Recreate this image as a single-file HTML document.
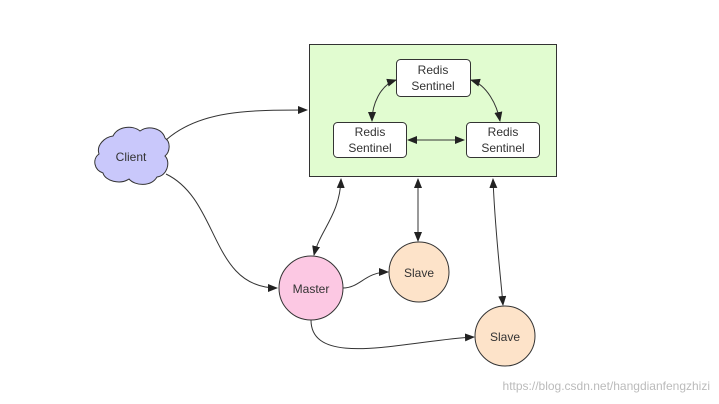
<!DOCTYPE html>
<html><head><style>body{margin:0;background:#fff}svg{display:block}text{font-family:"Liberation Sans",sans-serif;fill:#333}</style></head><body>
<svg width="719" height="404" viewBox="0 0 719 404" xmlns="http://www.w3.org/2000/svg">
<defs><marker id="a" markerWidth="10" markerHeight="8" refX="9" refY="4" orient="auto-start-reverse" markerUnits="userSpaceOnUse"><path d="M0,0L10,4L0,8z" fill="#222"/></marker></defs>
<rect x="309.5" y="44.5" width="247" height="132" fill="#e1fcd0" stroke="#333"/>
<g stroke="#333" fill="#fff"><rect x="396.5" y="59.5" width="74" height="37" rx="4"/><rect x="333.5" y="122.5" width="73" height="35" rx="4"/><rect x="466.5" y="122.5" width="73" height="35" rx="4"/></g>
<g font-size="12" text-anchor="middle"><text x="433" y="74">Redis</text><text x="433" y="90">Sentinel</text><text x="370" y="136">Redis</text><text x="370" y="152">Sentinel</text><text x="503" y="136">Redis</text><text x="503" y="152">Sentinel</text></g>
<path d="M113,136c5,-10 20,-11 27,-5c8,-6 22,-3 25,7c6,4 5,14 0,18c6,6 2,20 -8,21c-6,10 -22,9 -28,2c-9,6 -24,2 -26,-6c-9,-3 -11,-14 -4,-19c-3,-9 6,-17 14,-18z" fill="#c9c8fb" stroke="#333"/>
<text x="131" y="161" font-size="12" text-anchor="middle">Client</text>
<circle cx="311" cy="288" r="32" fill="#fcc8e3" stroke="#333"/>
<text x="311" y="293" font-size="12" text-anchor="middle">Master</text>
<circle cx="419" cy="272" r="30" fill="#fde3c9" stroke="#333"/>
<text x="419" y="277" font-size="12" text-anchor="middle">Slave</text>
<circle cx="505" cy="336" r="30" fill="#fde3c9" stroke="#333"/>
<text x="505" y="341" font-size="12" text-anchor="middle">Slave</text>
<g fill="none" stroke="#333" stroke-width="1">
<path d="M166,140C200,110 250,110 307,110" marker-end="url(#a)"/>
<path d="M166,174C220,200 210,288 277,288" marker-end="url(#a)"/>
<path d="M341,179C340,215 320,230 314,255" marker-start="url(#a)" marker-end="url(#a)"/>
<path d="M418,179L418,241" marker-start="url(#a)" marker-end="url(#a)"/>
<path d="M493,179C495,230 500,270 503,305" marker-start="url(#a)" marker-end="url(#a)"/>
<path d="M343,288C360,288 365,272 388,272" marker-end="url(#a)"/>
<path d="M311,320C311,370 410,340 474,337" marker-end="url(#a)"/>
<path d="M396,80C380,85 372,105 372,121" marker-start="url(#a)" marker-end="url(#a)"/>
<path d="M471,80C487,85 497,105 500,121" marker-start="url(#a)" marker-end="url(#a)"/>
<path d="M408,140L464,140" marker-start="url(#a)" marker-end="url(#a)"/>
</g>
<text x="710" y="390" font-size="12" text-anchor="end" style="fill:#bbb">https://blog.csdn.net/hangdianfengzhizi</text>
</svg>
</body></html>
